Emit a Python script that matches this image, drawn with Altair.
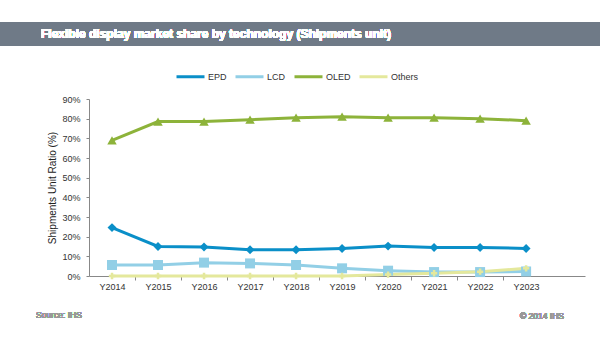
import altair as alt
import pandas as pd

years = ["Y2014", "Y2015", "Y2016", "Y2017", "Y2018", "Y2019", "Y2020", "Y2021", "Y2022", "Y2023"]
series = ["EPD", "LCD", "OLED", "Others"]
epd = [0.246, 0.150, 0.147, 0.133, 0.133, 0.140, 0.152, 0.145, 0.145, 0.140]
lcd = [0.056, 0.056, 0.068, 0.064, 0.056, 0.039, 0.027, 0.020, 0.020, 0.023]
oled = [0.690, 0.785, 0.785, 0.795, 0.805, 0.810, 0.805, 0.805, 0.800, 0.790]
others = [0.000, 0.000, 0.000, 0.000, 0.000, 0.000, 0.007, 0.014, 0.022, 0.039]
colors = ["#0a8fc8", "#92cfe6", "#8db33a", "#e4e89c"]
shapes = ["diamond", "square", "triangle-up", "cross"]
msizes = [80, 100, 90, 40]

rows = []
for name, vals in zip(series, [epd, lcd, oled, others]):
    for i, (yr, v) in enumerate(zip(years, vals)):
        rows.append({"idx": i + 0.5, "year": yr, "series": name, "value": v})
df = pd.DataFrame(rows)

FONT = "Liberation Sans"
label_arr = "[" + ",".join("'" + y + "'" for y in years) + "]"
xvals = [k * 0.5 for k in range(1, 20)]
yvals = [round(i * 0.1, 1) for i in range(10)]

x_enc = alt.X(
    "idx:Q",
    scale=alt.Scale(domain=[0, 10.78], nice=False, zero=False),
    axis=alt.Axis(
        title=None, values=xvals, grid=False,
        labelExpr="datum.value % 1 != 0 ? " + label_arr + "[floor(datum.value)] : ''",
        tickOpacity=alt.expr("datum.value % 1 == 0 ? 1 : 0"),
        tickSize=4, tickColor="#888888", domainColor="#888888",
        labelFont=FONT, labelFontSize=9, labelColor="#333333", labelPadding=2,
        labelFlush=False, labelOverlap=False,
    ),
)
y_enc = alt.Y(
    "value:Q",
    scale=alt.Scale(domain=[0, 0.9], nice=False),
    axis=alt.Axis(
        title="Shipments Unit Ratio (%)", format=".0%", values=yvals,
        grid=False, tickSize=3, tickColor="#888888", domainColor="#888888",
        labelFont=FONT, labelFontSize=9, labelColor="#333333", labelPadding=6,
        labelOverlap=False,
        titleFont=FONT, titleFontSize=10, titleFontWeight="normal", titleColor="#222222",
        titlePadding=4,
    ),
)
color_scale = alt.Scale(domain=series, range=colors)

lines = alt.Chart(df).mark_line(strokeWidth=3, clip=False).encode(
    x=x_enc, y=y_enc,
    color=alt.Color("series:N", scale=color_scale, legend=alt.Legend(
        title=None, orient="none", direction="horizontal", legendX=86, legendY=-38,
        symbolType="stroke", symbolStrokeWidth=3, symbolSize=784, symbolOffset=0,
        labelFont=FONT, labelFontSize=9, labelColor="#333333", labelOffset=2,
        columnPadding=2,
    )),
)

point_layers = []
for name, col, shp, sz in zip(series, colors, shapes, msizes):
    point_layers.append(
        alt.Chart(df).transform_filter(alt.datum.series == name).mark_point(
            filled=True, opacity=1, size=sz, shape=shp, color=col, clip=False
        ).encode(x=x_enc, y=y_enc)
    )

bar = alt.Chart(df).mark_rect(color="#6f7a87").encode(
    x=alt.value(-89), x2=alt.value(511), y=alt.value(-77), y2=alt.value(-53)
)
title = alt.Chart(df).mark_text(
    text="Flexible display  market share by technology  (Shipments unit)",
    font=FONT, fontSize=12, fontWeight="bold", color="white",
    align="left", baseline="middle",
).encode(x=alt.value(-48), y=alt.value(-65))
src = alt.Chart(df).mark_text(
    text="Source: IHS", font=FONT, fontSize=8.5, color="#999999", align="left", baseline="middle"
).encode(x=alt.value(-53), y=alt.value(216))
cp = alt.Chart(df).mark_text(
    text="© 2014 IHS", font=FONT, fontSize=8.5, color="#999999", align="right", baseline="middle"
).encode(x=alt.value(475), y=alt.value(217))

chart = alt.layer(bar, title, lines, *point_layers, src, cp).properties(
    width=496, height=177,
    autosize=alt.AutoSizeParams(type="none"),
    padding={"left": 89, "top": 99, "right": 15, "bottom": 74},
    background="white",
).configure_view(strokeWidth=0)

chart.save("out.html", embed_options={"renderer": "svg", "actions": False})
